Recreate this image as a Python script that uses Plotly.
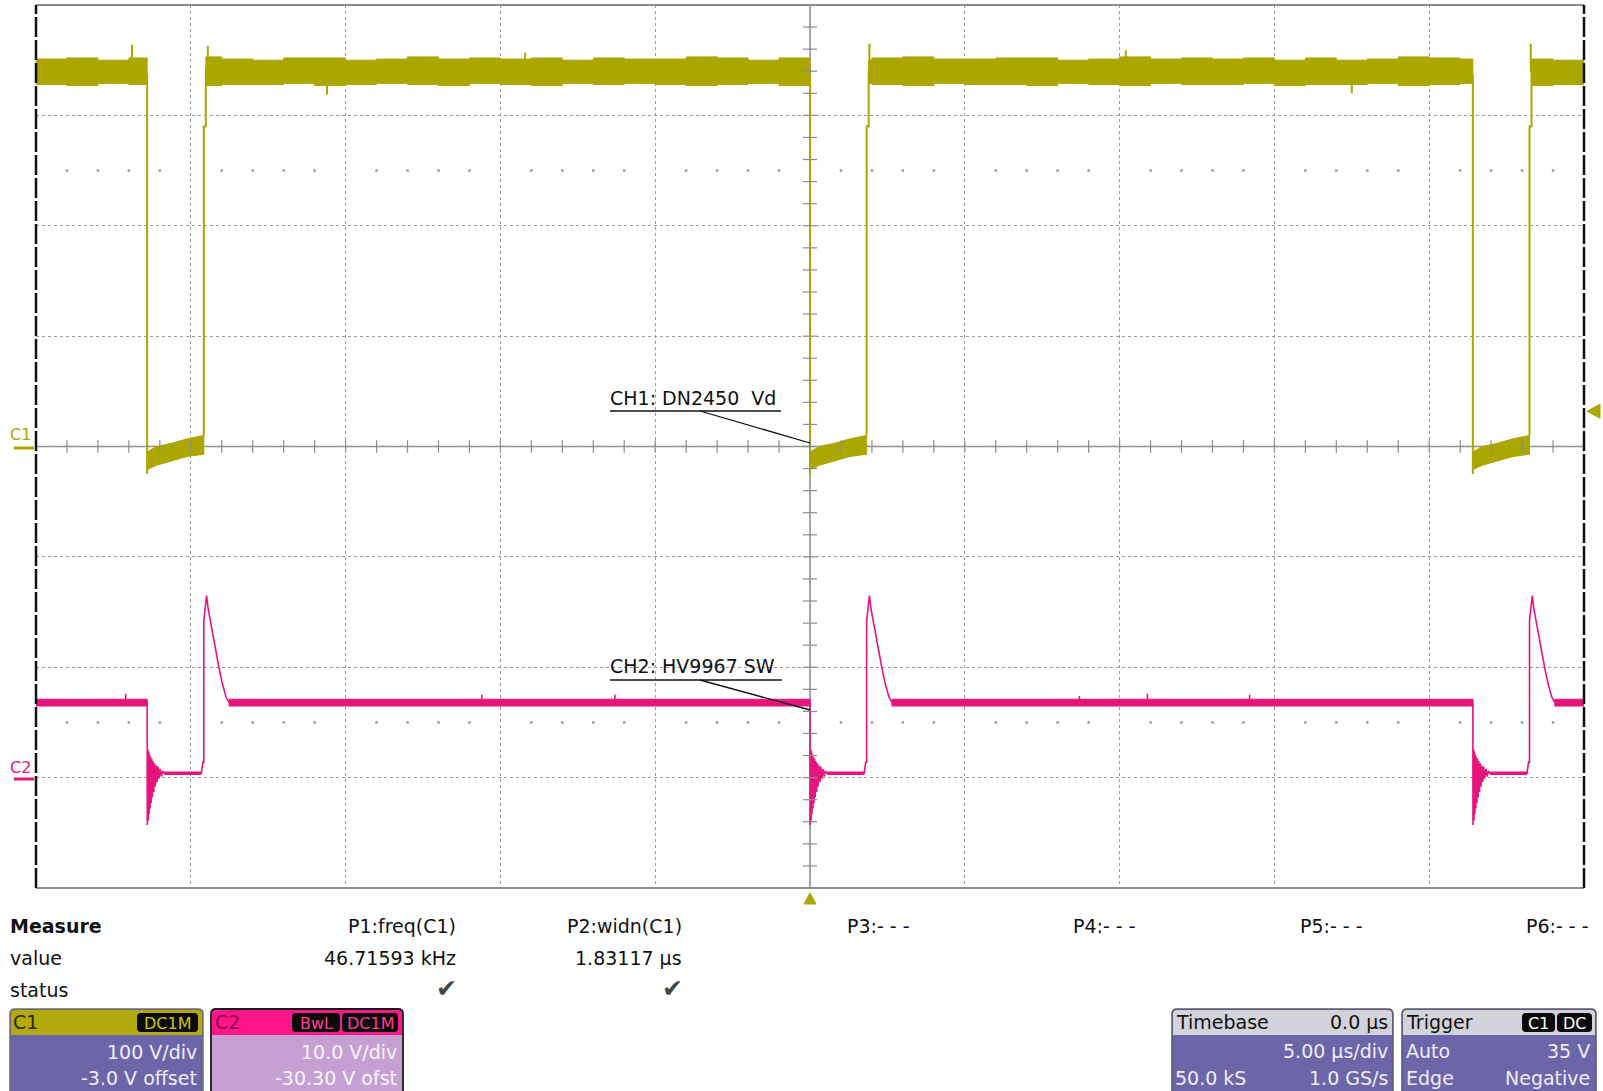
import numpy as np
import plotly.graph_objects as go

# ---------------- data ----------------
time_range_us = [-25.0, 25.0]          # 5 us/div, 10 div
div_range = [-4.0, 4.0]                # 8 vertical divisions
C1_VDIV, C1_OFFSET = 100.0, -3.0       # V/div, V offset
C2_VDIV, C2_OFFSET = 10.0, -30.30
trigger_level_V = 35.0

c1_fall_us = [-21.41, 0.0, 21.41]      # negative edges of CH1
c1_low_width_us = 1.83                 # widn(C1)

# CH1 high-level noise envelope, one sample per microsecond (-25 .. 25 us)
c1_env_t_us = [float(t) for t in range(-25, 26)]
c1_env_upper_V = [354, 355, 353, 355, 354, 356, 354, 353, 355, 355, 353, 354, 356,
                  354, 355, 354, 355, 353, 355, 354, 354, 356, 355, 353, 355, 354,
                  353, 355, 356, 354, 354, 355, 355, 353, 354, 356, 354, 355, 354,
                  355, 353, 355, 353, 354, 356, 355, 354, 355, 354, 353, 355]
c1_env_lower_V = [331, 330, 332, 331, 332, 330, 331, 331, 332, 330, 331, 332, 331,
                  330, 332, 331, 330, 332, 331, 332, 331, 330, 331, 332, 330, 331,
                  332, 331, 330, 332, 331, 331, 330, 332, 331, 330, 332, 331, 331,
                  332, 330, 331, 331, 332, 330, 331, 332, 331, 330, 331, 332]
c1_spike_t_us = [-21.90, -19.45, -15.6, -9.2, 1.92, 10.2, 17.5, 23.28]
c1_spike_V = [367, 366, 322, 360, 368, 362, 323, 368]

# CH1 low plateau envelope, relative to each falling edge
c1_low_dt_us = [0.0, 0.3, 0.8, 1.3, 1.83]
c1_low_upper_V = [-2, 3, 6, 10, 13]
c1_low_lower_V = [-18, -14, -10, -6, -4]
c1_rise_mid_V = 293

# CH2 (switch node)
c2_high_V = 7.1
c2_high_noise_V = 0.3
c2_low_V = 0.7
c2_ring_dt_us = [0.000, 0.004, 0.020, 0.035, 0.050, 0.065, 0.080, 0.095, 0.110, 0.130,
                 0.150, 0.170, 0.190, 0.215, 0.240, 0.265, 0.290, 0.320, 0.350, 0.380,
                 0.420, 0.460, 0.500, 0.550]
c2_ring_V = [7.1, -4.0, 2.9, -3.6, 2.7, -3.0, 2.4, -2.5, 2.2, -2.0, 2.0, -1.5, 1.8,
             -1.0, 1.6, -0.5, 1.4, -0.1, 1.3, 0.2, 1.1, 0.4, 0.9, 0.7]
c2_rise_dt_us = [-0.08, -0.03, 0.0, 0.0, 0.05, 0.09, 0.14, 0.20, 0.27, 0.36, 0.48,
                 0.60, 0.72, 0.82]
c2_rise_V = [0.7, 1.7, 1.7, 14.5, 16.0, 16.8, 15.6, 14.7, 13.6, 12.0, 10.4, 8.8, 7.6, 7.1]
c2_bump_t_us = [-22.1, -10.6, -6.3, 8.7, 10.9, 14.2]
c2_bump_V = [7.9, 7.8, 7.8, 7.7, 7.9, 7.8]

# measurement panel
measure_names = ["P1:freq(C1)", "P2:widn(C1)", "P3:- - -", "P4:- - -", "P5:- - -", "P6:- - -"]
measure_values = ["46.71593 kHz", "1.83117 µs", "", "", "", ""]
measure_status = ["✔", "✔", "", "", "", ""]

C1_COLOR = "#aca600"
C2_COLOR = "#e6157c"
FONT = "DejaVu Sans"

# ---------------- geometry helpers ----------------
FIG_W, FIG_H = 1603, 1091
L, R, T, B = 36, 1584, 5, 888
W, H = R - L, B - T


def xp(px):
    return (px - L) / W


def yp(py):
    return (B - py) / H


def d1(v):
    return (v + C1_OFFSET) / C1_VDIV


def d2(v):
    return (v + C2_OFFSET) / C2_VDIV


def env_at(t, arr):
    i = int(np.floor(t - c1_env_t_us[0]))
    i = max(0, min(len(arr) - 1, i))
    return arr[i]


fig = go.Figure()

# ---------------- CH1 ----------------
rise_times = [tf + c1_low_width_us for tf in c1_fall_us]
high_segments = []
starts = [time_range_us[0]] + [tr + 0.065 for tr in rise_times]
ends = list(c1_fall_us) + [time_range_us[1]]
for a, b in zip(starts, ends):
    if b > a:
        high_segments.append((a, b))

band_x, band_y = [], []
for a, b in high_segments:
    grid = [a] + [t for t in c1_env_t_us if a < t < b] + [b]
    ux, uy = [], []
    for i in range(len(grid) - 1):
        v = env_at(grid[i], c1_env_upper_V)
        ux += [grid[i], grid[i + 1]]
        uy += [d1(v), d1(v)]
    lx, ly = [], []
    for i in range(len(grid) - 1):
        v = env_at(grid[i], c1_env_lower_V)
        lx += [grid[i], grid[i + 1]]
        ly += [d1(v), d1(v)]
    band_x += ux + lx[::-1] + [ux[0], None]
    band_y += uy + ly[::-1] + [uy[0], None]

# low plateaus
for tf in c1_fall_us:
    ux = [tf + dt for dt in c1_low_dt_us]
    uy = [d1(v) for v in c1_low_upper_V]
    ly = [d1(v) for v in c1_low_lower_V]
    band_x += ux + ux[::-1] + [ux[0], None]
    band_y += uy + ly[::-1] + [uy[0], None]

fig.add_trace(go.Scatter(x=band_x, y=band_y, mode="lines", fill="toself",
                         fillcolor=C1_COLOR, line=dict(color=C1_COLOR, width=1),
                         hoverinfo="skip", showlegend=False))

# edges
ex, ey = [], []
for tf, tr in zip(c1_fall_us, rise_times):
    ex += [tf, tf, None]
    ey += [d1(340), d1(c1_low_lower_V[0] - 4), None]
    ex += [tr, tr, tr + 0.065, tr + 0.065, None]
    ey += [d1(c1_low_upper_V[-1]), d1(c1_rise_mid_V), d1(c1_rise_mid_V), d1(345), None]
for t, v in zip(c1_spike_t_us, c1_spike_V):
    ex += [t, t, None]
    ey += [d1(342), d1(v), None]
fig.add_trace(go.Scatter(x=ex, y=ey, mode="lines", line=dict(color=C1_COLOR, width=2),
                         hoverinfo="skip", showlegend=False))

# ---------------- CH2 ----------------
c2_band_x, c2_band_y = [], []
seg_starts = [time_range_us[0]] + [tr + c2_rise_dt_us[-1] for tr in rise_times]
seg_ends = list(c1_fall_us) + [time_range_us[1]]
for a, b in zip(seg_starts, seg_ends):
    if b > a:
        c2_band_x += [a, b, b, a, a, None]
        c2_band_y += [d2(c2_high_V + c2_high_noise_V)] * 2 + [d2(c2_high_V - c2_high_noise_V)] * 2 + [d2(c2_high_V + c2_high_noise_V), None]
fig.add_trace(go.Scatter(x=c2_band_x, y=c2_band_y, mode="lines", fill="toself",
                         fillcolor=C2_COLOR, line=dict(color=C2_COLOR, width=1.2),
                         hoverinfo="skip", showlegend=False))

tx, ty = [], []
for tf, tr in zip(c1_fall_us, rise_times):
    tx += [tf + dt for dt in c2_ring_dt_us]
    ty += [d2(v) for v in c2_ring_V]
    tx += [tr + dt for dt in c2_rise_dt_us]
    ty += [d2(v) for v in c2_rise_V]
    tx.append(None)
    ty.append(None)
for t, v in zip(c2_bump_t_us, c2_bump_V):
    tx += [t, t, None]
    ty += [d2(c2_high_V), d2(v), None]
fig.add_trace(go.Scatter(x=tx, y=ty, mode="lines", line=dict(color=C2_COLOR, width=1.6),
                         hoverinfo="skip", showlegend=False))

px_, py_ = [], []
for tf, tr in zip(c1_fall_us, rise_times):
    px_ += [tf + c2_ring_dt_us[-1], tr + c2_rise_dt_us[0], None]
    py_ += [d2(c2_low_V), d2(c2_low_V), None]
fig.add_trace(go.Scatter(x=px_, y=py_, mode="lines", line=dict(color=C2_COLOR, width=3.5),
                         hoverinfo="skip", showlegend=False))

# ---------------- graticule extras ----------------
tick_x = np.arange(time_range_us[0], time_range_us[1] + 0.01, 1.0)
tick_y = np.arange(div_range[0], div_range[1] + 0.01, 0.2)
fig.add_trace(go.Scatter(x=tick_x, y=np.zeros_like(tick_x), mode="markers",
                         marker=dict(symbol="line-ns", size=9, line=dict(color="#8c8c8c", width=1.2)),
                         hoverinfo="skip", showlegend=False))
fig.add_trace(go.Scatter(x=np.zeros_like(tick_y), y=tick_y, mode="markers",
                         marker=dict(symbol="line-ew", size=10, line=dict(color="#8c8c8c", width=1.2)),
                         hoverinfo="skip", showlegend=False))
dots_x = [t for t in tick_x if abs(t % 5) > 1e-6]
fig.add_trace(go.Scatter(x=dots_x * 2, y=[2.5] * len(dots_x) + [-2.5] * len(dots_x), mode="markers",
                         marker=dict(symbol="square", size=2.5, color="#9a9a9a"),
                         hoverinfo="skip", showlegend=False))

shapes = []
# centre cross (solid)
shapes.append(dict(type="line", xref="x", yref="y", x0=time_range_us[0], x1=time_range_us[1], y0=0, y1=0,
                   line=dict(color="#8c8c8c", width=1.5), layer="below"))
shapes.append(dict(type="line", xref="x", yref="y", x0=0, x1=0, y0=div_range[0], y1=div_range[1],
                   line=dict(color="#8c8c8c", width=1.5), layer="below"))
# borders
shapes.append(dict(type="line", xref="paper", yref="paper", x0=0, x1=1, y0=1, y1=1,
                   line=dict(color="#8c8c8c", width=2)))
shapes.append(dict(type="line", xref="paper", yref="paper", x0=0, x1=1, y0=0, y1=0,
                   line=dict(color="#8c8c8c", width=2)))
for xx in (0, 1):
    shapes.append(dict(type="line", xref="paper", yref="paper", x0=xx, x1=xx, y0=0, y1=1,
                       line=dict(color="#111111", width=2.5, dash="20px,3px")))


def line_px(x0, y0, x1, y1, color, width):
    shapes.append(dict(type="line", xref="paper", yref="paper", x0=xp(x0), y0=yp(y0),
                       x1=xp(x1), y1=yp(y1), line=dict(color=color, width=width)))


def path_px(points, color):
    d = "M" + " L".join(f"{xp(a)},{yp(b)}" for a, b in points) + " Z"
    shapes.append(dict(type="path", xref="paper", yref="paper", path=d,
                       fillcolor=color, line=dict(color=color, width=1)))


def rrect(x0, y0, x1, y1, r, fill=None, line=None, lw=1.5, top_only=False):
    rb = 0 if top_only else r
    d = (f"M{xp(x0 + r)},{yp(y0)} L{xp(x1 - r)},{yp(y0)} Q{xp(x1)},{yp(y0)} {xp(x1)},{yp(y0 + r)} "
         f"L{xp(x1)},{yp(y1 - rb)} Q{xp(x1)},{yp(y1)} {xp(x1 - rb)},{yp(y1)} "
         f"L{xp(x0 + rb)},{yp(y1)} Q{xp(x0)},{yp(y1)} {xp(x0)},{yp(y1 - rb)} "
         f"L{xp(x0)},{yp(y0 + r)} Q{xp(x0)},{yp(y0)} {xp(x0 + r)},{yp(y0)} Z")
    shapes.append(dict(type="path", xref="paper", yref="paper", path=d,
                       fillcolor=fill if fill else "rgba(0,0,0,0)",
                       line=dict(color=line if line else "rgba(0,0,0,0)", width=lw if line else 0)))


# channel ground markers
line_px(14, 448, 34, 448, C1_COLOR, 3)
line_px(14, 779, 34, 779, C2_COLOR, 3)
# trigger markers
trig_py = B - (d1(trigger_level_V) - div_range[0]) / (div_range[1] - div_range[0]) * H
path_px([(1587, trig_py), (1600, trig_py - 7), (1600, trig_py + 7)], C1_COLOR)
path_px([(810, 893), (804, 904), (816, 904)], C1_COLOR)

# probe labels: underline + leader
line_px(610, 411, 781, 411, "#111111", 1.5)
line_px(700, 411, 810, 443, "#111111", 1.3)
line_px(610, 680, 782, 680, "#111111", 1.5)
line_px(700, 680, 810, 710, "#111111", 1.3)

annotations = []


def text_px(x, y, s, anchor="left", size=19, color="#111111", bold=False):
    if bold:
        s = f"<b>{s}</b>"
    annotations.append(dict(x=xp(x), y=yp(y), xref="paper", yref="paper", text=s, showarrow=False,
                            xanchor=anchor, yanchor="middle", borderpad=0,
                            font=dict(family=FONT, size=size, color=color)))


text_px(609, 398, "CH1: DN2450\u00a0\u00a0Vd")
text_px(609, 666, "CH2: HV9967 SW")
text_px(20, 434, "C1", anchor="center", size=16, color=C1_COLOR)
text_px(20, 767, "C2", anchor="center", size=16, color=C2_COLOR)

# measurement table
text_px(9, 926, "Measure", bold=True)
text_px(9, 958, "value")
text_px(9, 990, "status")
col_right = [457, 683, 911, 1137, 1364, 1590]
for xr, name, val, st in zip(col_right, measure_names, measure_values, measure_status):
    text_px(xr, 926, name, anchor="right")
    if val:
        text_px(xr, 958, val, anchor="right")
    if st:
        text_px(xr - 11, 989, st, anchor="center", size=25, color="#454545")

# info boxes
BODY = "#6b66a8"
BODY_TXT = "#eeeefa"


def badge(x0, x1, y0, y1, s, color):
    rrect(x0, y0, x1, y1, 4, fill="#0a0a0a")
    text_px((x0 + x1) / 2, (y0 + y1) / 2 + 1, s, anchor="center", size=16, color=color)


# C1 box
rrect(10, 1009, 203, 1100, 5, fill=BODY)
rrect(11, 1010, 202, 1035, 4, fill="#b3ab0c", top_only=True)
rrect(10, 1009, 203, 1100, 5, line="#6e6e6e", lw=1.5)
text_px(12, 1022, "C1", color="#2a2600")
badge(137, 198, 1013, 1032, "DC1M", "#cfc610")
text_px(198, 1052, "100 V/div", anchor="right", color=BODY_TXT)
text_px(198, 1078, "-3.0 V offset", anchor="right", color=BODY_TXT)

# C2 box
rrect(211, 1009, 403, 1100, 5, fill="#c6a0d2")
rrect(212, 1010, 402, 1035, 4, fill="#ff1689", top_only=True)
rrect(211, 1009, 403, 1100, 5, line="#1a1a1a", lw=1.8)
text_px(214, 1022, "C2", color="#8c0045")
badge(292, 340, 1013, 1032, "BwL", "#ff3c9c")
badge(342, 398, 1013, 1032, "DC1M", "#ff3c9c")
text_px(398, 1052, "10.0 V/div", anchor="right", color="#faf4ff")
text_px(398, 1078, "-30.30 V ofst", anchor="right", color="#faf4ff")

# Timebase box
rrect(1172, 1009, 1393, 1100, 5, fill=BODY)
rrect(1173, 1010, 1392, 1035, 4, fill="#d2d2da", top_only=True)
rrect(1172, 1009, 1393, 1100, 5, line="#5a5a6a", lw=1.5)
text_px(1175, 1022, "Timebase")
text_px(1389, 1022, "0.0 µs", anchor="right")
text_px(1389, 1051, "5.00 µs/div", anchor="right", color=BODY_TXT)
text_px(1174, 1078, "50.0 kS", color=BODY_TXT)
text_px(1389, 1078, "1.0 GS/s", anchor="right", color=BODY_TXT)

# Trigger box
rrect(1402, 1009, 1596, 1100, 5, fill=BODY)
rrect(1403, 1010, 1595, 1035, 4, fill="#d2d2da", top_only=True)
rrect(1402, 1009, 1596, 1100, 5, line="#5a5a6a", lw=1.5)
text_px(1405, 1022, "Trigger")
badge(1522, 1555, 1013, 1032, "C1", "#ffffff")
badge(1557, 1592, 1013, 1032, "DC", "#ffffff")
text_px(1405, 1051, "Auto", color=BODY_TXT)
text_px(1591, 1051, "35 V", anchor="right", color=BODY_TXT)
text_px(1405, 1078, "Edge", color=BODY_TXT)
text_px(1591, 1078, "Negative", anchor="right", color=BODY_TXT)

fig.update_layout(
    width=FIG_W, height=FIG_H, autosize=False,
    margin=dict(l=L, r=FIG_W - R, t=T, b=FIG_H - B, pad=0),
    paper_bgcolor="white", plot_bgcolor="white",
    showlegend=False, hovermode=False,
    shapes=shapes, annotations=annotations,
    xaxis=dict(range=time_range_us, dtick=5, tick0=0, showgrid=True, gridcolor="#9a9a9a",
               griddash="dot", gridwidth=1, zeroline=False, showticklabels=False,
               ticks="", showline=False, fixedrange=True),
    yaxis=dict(range=div_range, dtick=1, tick0=0, showgrid=True, gridcolor="#9a9a9a",
               griddash="dot", gridwidth=1, zeroline=False, showticklabels=False,
               ticks="", showline=False, fixedrange=True),
)

# the page's default 8px body margin would push the 1603x1091 figure out of the window
fig.write_html("out.html", config={"displayModeBar": False},
               post_script="document.body.style.margin='0';document.body.style.overflow='hidden';")
